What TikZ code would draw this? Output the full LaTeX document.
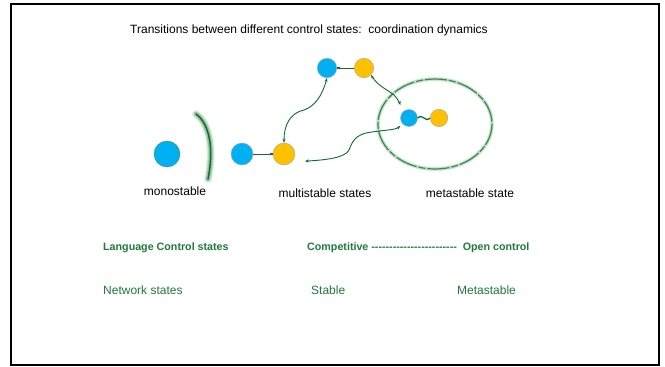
\documentclass[tikz,border=0pt]{standalone}
\usepackage{fontspec}
\setmainfont{Liberation Sans}
\newfontfamily\arial{Liberation Sans}
\usetikzlibrary{arrows.meta}
\definecolor{cblue}{HTML}{00B0F0}
\definecolor{corange}{HTML}{FFC000}
\definecolor{dgreen}{HTML}{0F6B2E}
\definecolor{tgreen}{HTML}{1F7A3C}
\definecolor{egreen}{HTML}{3A8C4E}
\tikzset{
  ball/.style={circle, draw=gray!70, line width=0.4pt, inner sep=0pt, minimum size=#1},
  bluebal/.style={ball=#1, fill=cblue},
  orangebal/.style={ball=#1, fill=corange},
  link/.style={draw=dgreen, line width=0.9pt, -{Square[length=2.6pt,width=2.6pt]}},
  trans/.style={draw=dgreen, line width=0.9pt, {Stealth[length=4pt,width=3pt]}-{Stealth[length=4pt,width=3pt]}},
  lbl/.style={font=\arial\fontsize{12}{14}\selectfont, text=black, inner sep=0pt},
  glbl/.style={font=\arial\fontsize{12}{14}\selectfont, text=tgreen, inner sep=0pt, anchor=west},
  gbold/.style={font=\arial\bfseries\fontsize{10.7}{13}\selectfont, text=tgreen, inner sep=0pt, anchor=west},
}
\begin{document}
\begin{tikzpicture}[x=1pt, y=-1pt]
\useasboundingbox (0,0) rectangle (665,367);
\fill[white] (0,0) rectangle (665,367);
% frame
\draw[black, line width=2pt] (11,3.5) rectangle (658.5,364.5);

% title
\node[lbl] (title) at (309,30) {Transitions between different control states:\ \ coordination dynamics};

% monostable
\node[ball=26pt, fill=cblue, draw=dgreen!80] (mono) at (167,154) {};
% glowing barrier
\foreach \w/\o in {8/0.12, 6/0.2, 4/0.35} {
  \draw[egreen, line width=\w pt, opacity=\o, line cap=round]
    (196,114) .. controls (210,124) and (214,150) .. (208,179);
}
\draw[dgreen, line width=1.4pt, line cap=round]
    (196,114) .. controls (210,124) and (214,150) .. (208,179);

% multistable pair
\node[bluebal=22pt] (m1) at (242,154) {};
\node[orangebal=22pt] (m2) at (284,154) {};
\draw[link] (m1) -- (m2);

% upper pair
\node[bluebal=19.5pt] (t1) at (327,68) {};
\node[orangebal=19.5pt] (t2) at (364,68) {};
\draw[link] (t2) -- (t1);

% metastable basin
\foreach \w/\o in {4.5/0.12, 3/0.2} {
  \draw[egreen, line width=\w pt, opacity=\o] (435,124) ellipse [x radius=57, y radius=45];
}
\draw[egreen, line width=1.2pt, dash pattern=on 22pt off 2pt on 7pt off 2pt]
  (435,124) ellipse [x radius=57, y radius=45];

% metastable pair
\node[bluebal=17pt] (e1) at (409,118) {};
\node[orangebal=17.5pt] (e2) at (439,118) {};
\draw[dgreen, line width=1.3pt] (e1.east) .. controls (423,113) and (425,123) .. (e2.west);

% transitions
\draw[trans] (m2.north) .. controls (284,125) and (290,113) .. (304,110)
   .. controls (315,106) and (322,96) .. (t1.south);
\draw[trans, shorten >=7pt] (t2.south east) .. controls (378,86) and (388,90) .. (394,95)
   .. controls (398,99) and (400,104) .. (e1.north west);
\draw[trans, shorten <=13pt, shorten >=3pt] (m2.south east) .. controls (325,160) and (345,158) .. (349,150)
   .. controls (352,143) and (354,134) .. (372,132) .. controls (385,130) and (395,130) .. (e1.south west);

% state labels
\node[lbl] (lmono) at (175,191) {monostable};
\node[lbl] (lmulti) at (325,193) {multistable states};
\node[lbl] (lmeta) at (470,193) {metastable state};

% lower rows
\node[gbold] (lang) at (103,248) {Language Control states};
\node[gbold] (comp) at (307,248) {Competitive ------------------------ \ Open control};
\node[glbl] (net) at (103,290) {Network states};
\node[glbl] (stab) at (311,290) {Stable};
\node[glbl] (mstab) at (457,290) {Metastable};
\end{tikzpicture}
\end{document}
